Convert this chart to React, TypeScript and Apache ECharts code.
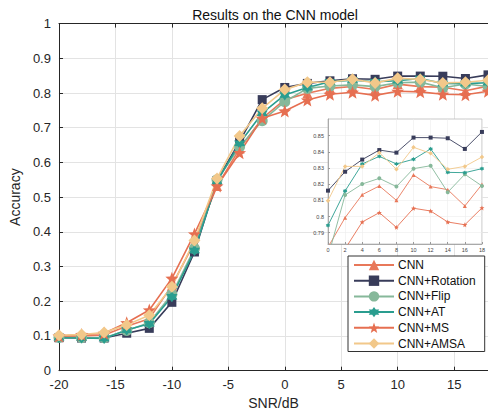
import React, { useEffect, useRef } from 'react';
import * as echarts from 'echarts';

const snr = [-20, -18, -16, -14, -12, -10, -8, -6, -4, -2, 0, 2, 4, 6, 8, 10, 12, 14, 16, 18];
const seriesNames = ['CNN', 'CNN+Rotation', 'CNN+Flip', 'CNN+AT', 'CNN+MS', 'CNN+AMSA'];
const cnn = [0.098, 0.100, 0.103, 0.128, 0.150, 0.245, 0.370, 0.532, 0.640, 0.727, 0.781, 0.7993, 0.8135, 0.8189, 0.8100, 0.8257, 0.8185, 0.8166, 0.8065, 0.8198];
const rotation = [0.095, 0.094, 0.094, 0.108, 0.122, 0.197, 0.342, 0.548, 0.660, 0.781, 0.816, 0.8277, 0.8352, 0.8411, 0.8395, 0.8488, 0.8488, 0.8484, 0.8418, 0.8523];
const flip = [0.096, 0.095, 0.095, 0.116, 0.138, 0.220, 0.352, 0.550, 0.645, 0.720, 0.775, 0.8133, 0.8201, 0.8236, 0.8185, 0.8296, 0.8314, 0.8150, 0.8261, 0.8189];
const at = [0.095, 0.094, 0.093, 0.117, 0.135, 0.213, 0.346, 0.545, 0.655, 0.742, 0.7945, 0.8158, 0.8325, 0.8372, 0.8325, 0.8354, 0.8418, 0.8273, 0.8271, 0.8296];
const ms = [0.100, 0.104, 0.108, 0.138, 0.175, 0.266, 0.394, 0.532, 0.628, 0.727, 0.748, 0.780, 0.7966, 0.8024, 0.7933, 0.8051, 0.8034, 0.7966, 0.7949, 0.8053];
const amsa = [0.102, 0.104, 0.110, 0.132, 0.160, 0.242, 0.375, 0.554, 0.676, 0.756, 0.8098, 0.831, 0.831, 0.8395, 0.8292, 0.8428, 0.8391, 0.8292, 0.831, 0.8368];
const insetYTicks = [0.79, 0.8, 0.81, 0.82, 0.83, 0.84, 0.85];

function starPath(points: number, inner: number) {
  const parts: string[] = [];
  for (let k = 0; k < points * 2; k++) {
    const a = (-90 + (180 / points) * k) * Math.PI / 180;
    const r = k % 2 === 0 ? 1 : inner;
    parts.push((k === 0 ? 'M' : 'L') + (r * Math.cos(a)).toFixed(4) + ' ' + (r * Math.sin(a)).toFixed(4));
  }
  return 'path://' + parts.join(' ') + ' Z';
}

const STAR5 = starPath(5, 0.42);
const STAR6 = starPath(6, 0.6);

const colors = ['#E8785A', '#383C5A', '#86B89A', '#2A9D8F', '#E66F51', '#F2C88A'];
const symbols = ['triangle', 'rect', 'circle', STAR6, STAR5, 'diamond'];
const mainSizes = [10, 9, 11, 11, 13, 12];
const insetSizes = [4, 4, 4, 4.5, 5, 4.5];
const values = [cnn, rotation, flip, at, ms, amsa];

const FONT = '"Liberation Sans", Arial, Helvetica, sans-serif';

export default function App() {
  const ref = useRef<HTMLDivElement>(null);
  useEffect(() => {
    if (!ref.current) return;
    const chart = echarts.init(ref.current, null, { renderer: 'svg' });
    const mainSeries = seriesNames.map((name, i) => ({
      name,
      type: 'line',
      xAxisIndex: 0,
      yAxisIndex: 0,
      data: snr.map((x, j) => [x, values[i][j]]),
      symbol: symbols[i],
      symbolSize: mainSizes[i],
      lineStyle: { color: colors[i], width: 1.6 },
      itemStyle: { color: colors[i] },
      z: 2,
    }));
    const insetSeries = seriesNames.map((name, i) => ({
      name,
      type: 'line',
      xAxisIndex: 1,
      yAxisIndex: 1,
      data: snr.map((x, j) => [x, values[i][j]]).filter((p) => p[0] >= 0),
      symbol: symbols[i],
      symbolSize: insetSizes[i],
      lineStyle: { color: colors[i], width: 0.9 },
      itemStyle: { color: colors[i] },
      clip: true,
      z: 12,
    }));
    const axisColor = '#262626';
    chart.setOption({
      animation: false,
      backgroundColor: '#fff',
      textStyle: { fontFamily: FONT },
      title: {
        text: 'Results on the CNN model',
        left: 270,
        textAlign: 'center',
        top: 3,
        textStyle: { fontFamily: FONT, fontSize: 14, fontWeight: 'normal', color: '#111' },
      },
      grid: [
        { left: 53, right: 0, top: 23.6, bottom: 47.3, show: false },
        {
          left: 328, top: 119, width: 158, height: 125, show: true,
          backgroundColor: '#fff', borderColor: '#bbb', borderWidth: 0.8, z: 10,
        },
      ],
      xAxis: [
        {
          type: 'value', gridIndex: 0, min: -20, max: 18, interval: 5,
          name: 'SNR/dB', nameLocation: 'middle', nameGap: 25,
          nameTextStyle: { fontFamily: FONT, fontSize: 14, color: axisColor },
          axisLine: { onZero: false, lineStyle: { color: axisColor, width: 1 } },
          axisTick: { inside: true, length: 4, lineStyle: { color: axisColor } },
          axisLabel: { fontFamily: FONT, fontSize: 13, color: axisColor, margin: 7, showMaxLabel: false },
          splitLine: { show: true, lineStyle: { color: '#e3e3e3', width: 1 } },
        },
        {
          type: 'value', gridIndex: 1, min: 0, max: 18, interval: 2, z: 11,
          axisLine: { onZero: false, lineStyle: { color: '#999', width: 0.8 } },
          axisTick: { inside: true, length: 2, lineStyle: { color: '#999' } },
          axisLabel: { fontFamily: FONT, fontSize: 5.5, color: '#444', margin: 3 },
          splitLine: { show: true, lineStyle: { color: '#ececec', width: 0.6 } },
        },
        {
          type: 'value', gridIndex: 0, min: -20, max: 18, interval: 5, position: 'top',
          axisLine: { onZero: false, lineStyle: { color: axisColor, width: 1 } },
          axisTick: { inside: true, length: 4, lineStyle: { color: axisColor } },
          axisLabel: { show: false },
          splitLine: { show: false },
        },
      ],
      yAxis: [
        {
          type: 'value', gridIndex: 0, min: 0, max: 1, interval: 0.1,
          name: 'Accuracy', nameLocation: 'middle', nameGap: 33,
          nameTextStyle: { fontFamily: FONT, fontSize: 14, color: axisColor },
          axisLine: { show: true, onZero: false, lineStyle: { color: axisColor, width: 1 } },
          axisTick: { show: true, inside: true, length: 4, lineStyle: { color: axisColor } },
          axisLabel: { fontFamily: FONT, fontSize: 13, color: axisColor, margin: 8 },
          splitLine: { show: true, lineStyle: { color: '#e3e3e3', width: 1 } },
        },
        {
          type: 'value', gridIndex: 1, min: 0.783, max: 0.8603, z: 11,
          axisLine: { show: true, onZero: false, lineStyle: { color: '#999', width: 0.8 } },
          axisTick: { show: true, inside: true, length: 2, customValues: insetYTicks, lineStyle: { color: '#999' } },
          axisLabel: {
            fontFamily: FONT, fontSize: 5.5, color: '#444', margin: 4,
            customValues: insetYTicks,
            formatter: (v: number) => String(Math.round(v * 100) / 100),
          },
          splitLine: { show: true, lineStyle: { color: '#ececec', width: 0.6 } },
        },
      ],
      legend: {
        orient: 'vertical',
        left: 348,
        top: 256,
        itemWidth: 40,
        itemHeight: 13,
        itemGap: 3.7,
        padding: [3, 9, 2, 5],
        backgroundColor: '#fff',
        borderColor: '#333',
        borderWidth: 1,
        borderRadius: 0,
        z: 20,
        textStyle: { fontFamily: FONT, fontSize: 12, color: '#111', padding: [0, 0, 0, -1] },
        data: seriesNames,
      },
      series: [...mainSeries, ...insetSeries],
    });
    return () => chart.dispose();
  }, []);
  return <div ref={ref} style={{ width: 488, height: 418, position: 'absolute', left: 0, top: 0 }} />;
}
